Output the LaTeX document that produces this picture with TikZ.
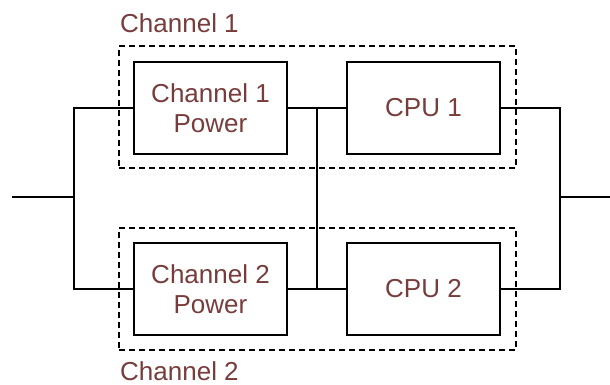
\documentclass[tikz,border=0pt]{standalone}
\usepackage{fontspec}
\setmainfont{Liberation Sans}
\usepackage{xcolor}
\usetikzlibrary{positioning,calc}
\definecolor{CText}{HTML}{783C3C}
\definecolor{CInk}{HTML}{000000}

\tikzset{
  unitbox/.style={draw=CInk, line width=1.6pt, minimum width=153pt, minimum height=92pt,
    inner sep=0pt, align=center, text=CText, font=\fontsize{26}{30}\selectfont},
  groupbox/.style={draw=CInk, line width=1.4pt, dash pattern=on 6pt off 4pt,
    minimum width=397pt, minimum height=122pt, inner sep=0pt},
  grouplabel/.style={text=CText, font=\fontsize{26}{30}\selectfont, inner sep=0pt, anchor=base west},
  wire/.style={draw=CInk, line width=1.6pt}
}

\begin{document}
\begin{tikzpicture}[x=1pt, y=-1pt]
  \useasboundingbox (0,0) rectangle (610,385);

  \node[groupbox] (ch1) at (317.5,107) {};
  \node[groupbox] (ch2) at (317.5,289) {};
  \node[grouplabel] (lab1) at (120,33) {Channel 1};
  \node[grouplabel] (lab2) at (120,380) {Channel 2};

  \node[unitbox] (pw1)  at (210.5,108) {Channel 1\\Power};
  \node[unitbox] (cpu1) at (423.5,108) {CPU 1};
  \node[unitbox] (pw2)  at (210.5,289) {Channel 2\\Power};
  \node[unitbox] (cpu2) at (423.5,289) {CPU 2};

  \coordinate (in)  at (12,197);
  \coordinate (jl)  at (74,197);
  \coordinate (jr)  at (560,197);
  \coordinate (out) at (610,197);
  \coordinate (m1)  at (317,108);
  \coordinate (m2)  at (317,289);

  \draw[wire] (in) -- (jl);
  \draw[wire] (pw1.west) -| (jl) |- (pw2.west);
  \draw[wire] (pw1.east) -- (cpu1.west);
  \draw[wire] (pw2.east) -- (cpu2.west);
  \draw[wire] (m1) -- (m2);
  \draw[wire] (cpu1.east) -| (jr) |- (cpu2.east);
  \draw[wire] (jr) -- (out);
\end{tikzpicture}
\end{document}
